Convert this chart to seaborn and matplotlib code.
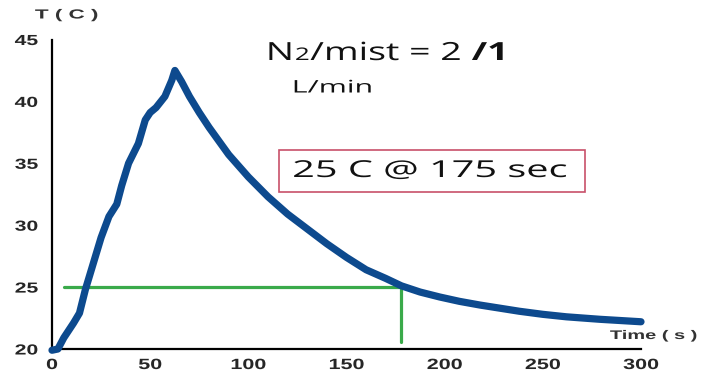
import matplotlib
matplotlib.use("Agg")
import matplotlib.pyplot as plt
import seaborn as sns
import pandas as pd
from matplotlib.patheffects import AbstractPathEffect
from matplotlib.transforms import Affine2D
from matplotlib.patches import Rectangle

# ---- data ----
time_s = [0, 3, 6, 11, 14, 17, 21, 25, 29, 33, 35.5, 39, 44, 47.5, 50, 53, 57.5, 61, 62.6,
          66, 70, 75, 80, 85, 90, 95, 100, 110, 120, 130, 140, 150, 160, 170, 178,
          187.5, 197.5, 207.5, 218, 228, 238, 250, 262, 279, 300]
temp_c = [19.9, 20.0, 20.9, 22.1, 22.9, 24.8, 26.9, 29.0, 30.7, 31.7, 33.2, 35.0, 36.6, 38.5,
          39.1, 39.5, 40.4, 41.7, 42.5,
          41.6, 40.4, 39.1, 37.9, 36.8, 35.7, 34.8, 33.9, 32.3, 30.9, 29.7, 28.5, 27.4,
          26.4, 25.7, 25.1, 24.6, 24.2, 23.85, 23.55, 23.3, 23.05, 22.8, 22.6, 22.4, 22.2]

guide_h_x = [6, 178]
guide_h_y = [25, 25]
guide_v_x = [178, 178]
guide_v_y = [25, 20.6]

x_ticks = [0, 50, 100, 150, 200, 250, 300]
y_ticks = [20, 25, 30, 35, 40, 45]


class HStretch(AbstractPathEffect):
    """Widen glyphs horizontally (the reference text is stretched)."""

    def __init__(self, sx, frac=0.0):
        super().__init__()
        self.sx = sx
        self.frac = frac

    def draw_path(self, renderer, gc, tpath, affine, rgbFace=None):
        bb = tpath.get_extents(affine)
        ox = bb.x0 + self.frac * bb.width
        new = affine + Affine2D().translate(-ox, 0).scale(self.sx, 1).translate(ox, 0)
        renderer.draw_path(gc, tpath, new, rgbFace)


sns.set_style("white")
plt.rcParams['font.family'] = ['Liberation Sans', 'DejaVu Sans']

W, H = 706, 373
fig = plt.figure(figsize=(W / 100, H / 100), dpi=100)
ax = fig.add_axes([52 / W, 1 - 349 / H, (641 - 52) / W, (349 - 39.5) / H])

df = pd.DataFrame({"Time": time_s, "T": temp_c})
sns.lineplot(data=df, x="Time", y="T", ax=ax, color="#0d4a8e", linewidth=5.2,
             solid_capstyle="round", solid_joinstyle="round", clip_on=False, zorder=3)
ax.plot(guide_h_x, guide_h_y, color="#3aaa4a", linewidth=2.3, zorder=2)
ax.plot(guide_v_x, guide_v_y, color="#3aaa4a", linewidth=2.3, zorder=2)

ax.set_xlim(0, 300)
ax.set_ylim(20, 45)
ax.set_xticks(x_ticks)
ax.set_yticks(y_ticks)
ax.set_xticklabels([str(v) for v in x_ticks], fontsize=10.7, fontweight="bold")
ax.set_yticklabels([str(v) for v in y_ticks], fontsize=10.5, fontweight="bold")
ax.tick_params(axis="both", direction="inout", length=8, width=1.6, color="black")
ax.tick_params(axis="x", pad=2.5)
ax.tick_params(axis="y", pad=6)
for lab in ax.get_xticklabels():
    lab.set_path_effects([HStretch(1.45, 0.5)])
for lab in ax.get_yticklabels():
    lab.set_path_effects([HStretch(1.45, 1.0)])
ax.set_xlabel("")
ax.set_ylabel("")
for s in ["top", "right"]:
    ax.spines[s].set_visible(False)
for s in ["left", "bottom"]:
    ax.spines[s].set_color("black")
    ax.spines[s].set_linewidth(1.6)


def px(x, y):
    return x / W, 1 - y / H


t1 = fig.text(*px(35, 18.5), "T ( C )", fontsize=9.5, fontweight="bold", color="#333333",
              va="baseline", ha="left")
t1.set_path_effects([HStretch(1.7)])
t2 = fig.text(*px(610, 339), "Time ( s )", fontsize=9, fontweight="bold", color="#333333",
              va="baseline", ha="left")
t2.set_path_effects([HStretch(1.6)])

# "N2/mist = 2 /1" built from pieces sharing a baseline
fig.canvas.draw()
renderer = fig.canvas.get_renderer()
SX = 1.5
pieces = [("N", 18, "normal"), ("2", 12.5, "normal"), ("/mist = 2 ", 18, "normal"),
          ("/1", 18, "bold")]
cur_x = 267
base_y = 60
for txt, size, weight in pieces:
    t = fig.text(*px(cur_x, base_y), txt, fontsize=size, fontweight=weight,
                 family=["Open Sans", "DejaVu Sans"], color="#111111",
                 va="baseline", ha="left")
    bb = t.get_window_extent(renderer=renderer)
    t.set_path_effects([HStretch(SX)])
    cur_x += bb.width * SX

t3 = fig.text(*px(293, 92.5), "L/min", fontsize=12.5, family=["Open Sans", "DejaVu Sans"],
              color="#111111", va="baseline", ha="left")
t3.set_path_effects([HStretch(1.75)])

box = Rectangle(px(279, 192), (585 - 279) / W, (192 - 150) / H, transform=fig.transFigure,
                facecolor="white", edgecolor="#c8506a", linewidth=1.2, zorder=5)
fig.add_artist(box)
t4 = fig.text(*px(293, 177), "25 C @ 175 sec", fontsize=16.8,
              family=["Open Sans", "DejaVu Sans"], color="#111111",
              va="baseline", ha="left", zorder=6)
t4.set_path_effects([HStretch(1.7)])

fig.savefig("out.png", dpi=100)
